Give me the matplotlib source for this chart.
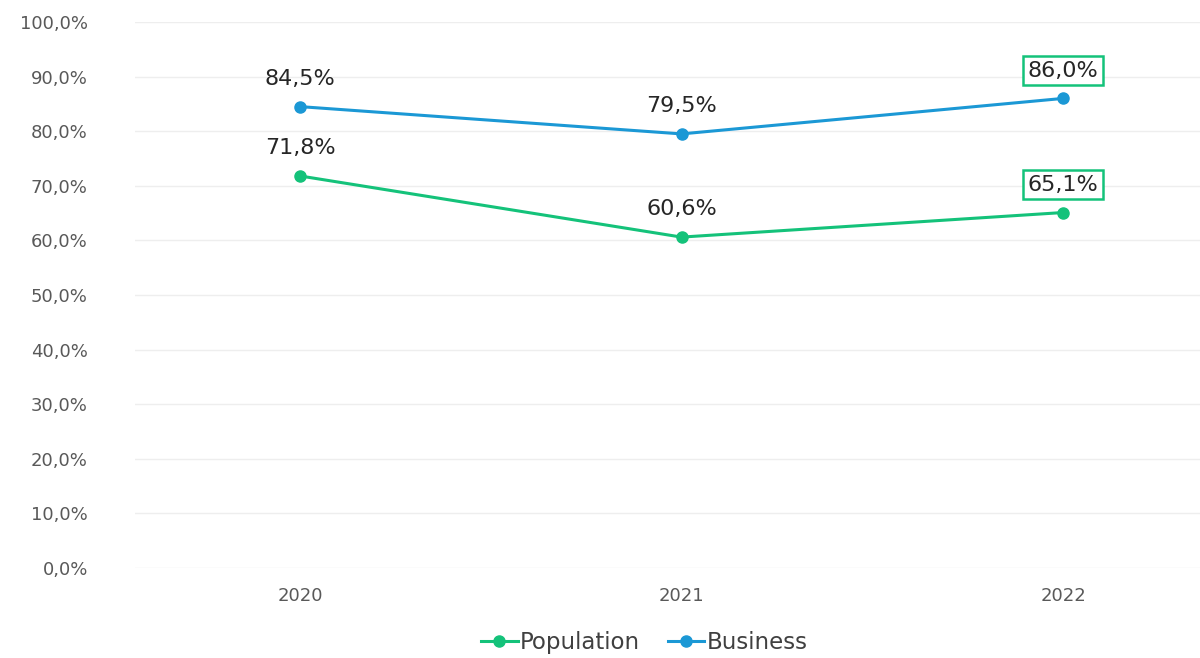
import matplotlib.pyplot as plt
from matplotlib.ticker import FuncFormatter

# ── Data ───────────────────────────────────────────────────────────────
years = ["2020", "2021", "2022"]
population = [71.8, 60.6, 65.1]
business = [84.5, 79.5, 86.0]
y_ticks = [0, 10, 20, 30, 40, 50, 60, 70, 80, 90, 100]

GREEN = "#14c27a"
BLUE = "#1b98d5"
TICK_GRAY = "#595959"

plt.rcParams["font.family"] = ["DejaVu Sans"]

fig = plt.figure(figsize=(12, 6.58), dpi=100)
ax = fig.add_axes([0.1125, 0.1368, 0.8875, 0.8298])

x = list(range(len(years)))
ax.plot(x, population, color=GREEN, linewidth=2.2, marker="o", markersize=8, label="Population", zorder=3)
ax.plot(x, business, color=BLUE, linewidth=2.2, marker="o", markersize=8, label="Business", zorder=3)

# data labels; last point of each series is boxed
for series in (population, business):
    for i, v in enumerate(series):
        txt = f"{v:.1f}%".replace(".", ",")
        kw = dict(ha="center", va="center", fontsize=16, color="#262626",
                  textcoords="offset points", xytext=(0, 20))
        if i == len(series) - 1:
            kw["bbox"] = dict(boxstyle="square,pad=0.2", facecolor="white", edgecolor=GREEN, linewidth=1.8)
        ax.annotate(txt, (i, v), **kw)

ax.set_xlim(-0.4325, 2.359)
ax.set_ylim(0, 100)
ax.set_xticks(x)
ax.set_xticklabels(years)
ax.set_yticks(y_ticks)
ax.yaxis.set_major_formatter(FuncFormatter(lambda v, _: f"{v:.1f}%".replace(".", ",")))
ax.tick_params(axis="both", length=0, colors=TICK_GRAY, labelsize=13)
ax.tick_params(axis="y", pad=34)
ax.tick_params(axis="x", pad=14)

ax.grid(True, axis="y", color="#eeeeee", linewidth=1)
ax.set_axisbelow(True)
for s in ax.spines.values():
    s.set_visible(False)

leg = fig.legend(loc="lower center", bbox_to_anchor=(0.537, -0.025), ncol=2, frameon=False,
                 fontsize=16.5, handlelength=1.6, handletextpad=0.1, columnspacing=1.2)
for t in leg.get_texts():
    t.set_color("#404040")

fig.savefig("out.png", dpi=100)
